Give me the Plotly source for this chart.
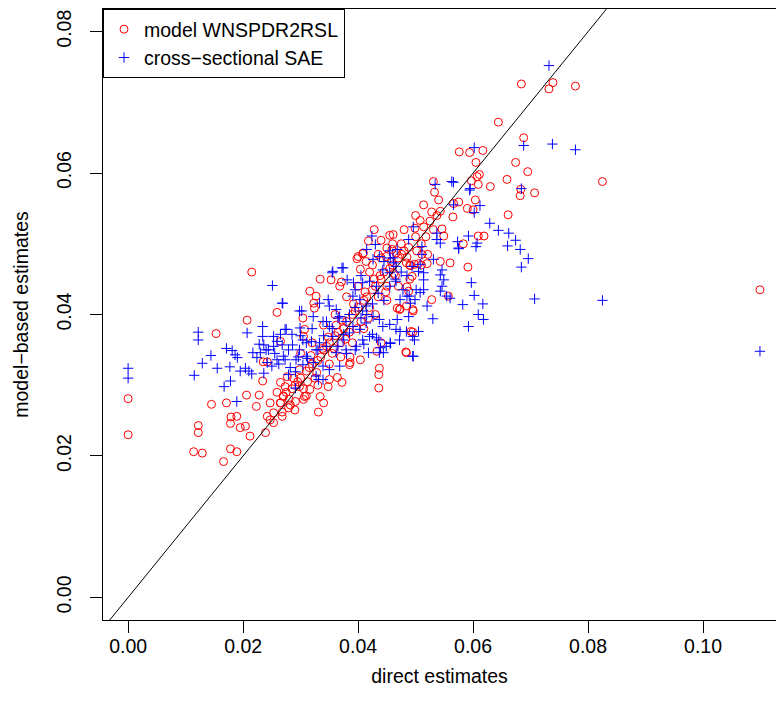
import plotly.graph_objects as go

# ---- data (direct estimates vs model-based estimates) ----
red_x = [0.0215,0.0259,0.0207,0.0153,0.0000,0.0000,0.0145,0.0171,0.0206,0.0234,
         0.0235,0.0228,0.0223,0.0122,0.0122,0.0178,0.0179,0.0189,0.0195,0.0204,
         0.0212,0.0239,0.0114,0.0129,0.0178,0.0189,0.0166,0.0242,0.0253,0.0247,
         0.0253,0.0247,0.0259,0.0265,0.0270,0.0265,0.0273,0.0277,0.0242,0.0265,
         0.0428,0.0461,0.0418,0.0398,0.0409,0.0414,0.0334,0.0353,0.0371,0.0404,
         0.0450,0.0459,0.0468,0.0436,0.0437,0.0436,0.0404,0.0433,0.0372,0.0350,
         0.0334,0.0340,0.0331,0.0305,0.0291,0.0279,0.0268,0.0305,0.0304,0.0323,
         0.0364,0.0386,0.0386,0.0576,0.0594,0.0617,0.0605,0.0674,0.0695,0.0659,
         0.0597,0.0607,0.0611,0.0609,0.0630,0.0531,0.0533,0.0540,0.0514,0.0575,
         0.0604,0.0590,0.0600,0.0683,0.0682,0.0707,0.0543,0.0537,0.0565,0.0661,
         0.0508,0.0499,0.0514,0.0525,0.0531,0.0546,0.0549,0.0609,0.0619,0.0583,
         0.0476,0.0485,0.0511,0.0521,0.0491,0.0505,0.0520,0.0543,0.0560,0.0591,
         0.0494,0.0485,0.0488,0.0557,0.0528,0.0473,0.0496,0.0495,0.0483,0.0684,
         0.0732,0.0739,0.0778,0.0644,0.0688,0.0825,0.0566,0.1099,
         0.0400,0.0408,0.0435,0.0449,0.0466,0.0484,0.0498,0.0324,0.0307,0.0472,
         0.0484,0.0495,0.0492,0.0440,0.0484,0.0385,0.0348,0.0316,0.0307,0.0298,
         0.0368,0.0316,0.0327,
         0.0265,0.0270,0.0275,0.0280,0.0285,0.0290,0.0295,0.0300,0.0305,0.0310,
         0.0315,0.0320,0.0325,0.0330,0.0335,0.0340,0.0345,0.0350,0.0355,0.0360,
         0.0365,0.0370,0.0375,0.0380,0.0385,0.0390,0.0395,0.0400,0.0405,0.0410,
         0.0415,0.0420,0.0425,0.0430,0.0435,0.0440,0.0445,0.0450,0.0455,0.0460,
         0.0465,0.0470,0.0480,0.0490,0.0500,0.0510,
         0.0300,0.0320,0.0340,0.0360,0.0380,0.0400,0.0350,0.0370,0.0390,0.0410,
         0.0430,0.0450,0.0290,0.0310,0.0330,0.0425,0.0440,0.0460,0.0480,0.0500,
         0.0470,0.0490,0.0510,
         0.0268,0.0282,0.0288,0.0298,0.0312,0.0318,0.0328,0.0338,0.0348,0.0358,
         0.0362,0.0372,0.0378,0.0392,0.0398,0.0412,0.0418,0.0428,0.0438,0.0448,
         0.0458,0.0462,0.0475,0.0488,0.0502,0.0518,0.0528,0.0455,0.0440,0.0420]
red_y = [0.0460,0.0403,0.0392,0.0373,0.0281,0.0230,0.0273,0.0275,0.0286,0.0306,
         0.0333,0.0286,0.0270,0.0243,0.0233,0.0246,0.0255,0.0256,0.0240,0.0242,
         0.0228,0.0233,0.0206,0.0204,0.0210,0.0206,0.0192,0.0256,0.0261,0.0251,
         0.0247,0.0275,0.0290,0.0275,0.0284,0.0304,0.0298,0.0312,0.0333,0.0362,
         0.0520,0.0513,0.0504,0.0479,0.0487,0.0475,0.0450,0.0449,0.0446,0.0464,
         0.0494,0.0492,0.0409,0.0315,0.0324,0.0296,0.0336,0.0348,0.0304,0.0308,
         0.0284,0.0275,0.0262,0.0280,0.0277,0.0268,0.0256,0.0369,0.0395,0.0416,
         0.0311,0.0332,0.0340,0.0630,0.0629,0.0632,0.0615,0.0615,0.0602,0.0591,
         0.0589,0.0595,0.0598,0.0584,0.0581,0.0588,0.0573,0.0562,0.0555,0.0559,
         0.0562,0.0550,0.0548,0.0577,0.0568,0.0572,0.0546,0.0540,0.0538,0.0541,
         0.0533,0.0522,0.0524,0.0532,0.0520,0.0521,0.0511,0.0511,0.0511,0.0500,
         0.0485,0.0481,0.0485,0.0485,0.0469,0.0472,0.0472,0.0475,0.0473,0.0467,
         0.0454,0.0439,0.0433,0.0426,0.0421,0.0408,0.0405,0.0375,0.0347,0.0726,
         0.0719,0.0728,0.0723,0.0672,0.0650,0.0588,0.0557,0.0435,
         0.0482,0.0486,0.0485,0.0482,0.0487,0.0473,0.0471,0.0409,0.0379,0.0407,
         0.0412,0.0407,0.0376,0.0360,0.0346,0.0329,0.0298,0.0294,0.0284,0.0298,
         0.0440,0.0433,0.0426,
         0.0275,0.0285,0.0290,0.0280,0.0295,0.0300,0.0305,0.0310,0.0295,0.0320,
         0.0325,0.0330,0.0310,0.0335,0.0340,0.0350,0.0355,0.0360,0.0345,0.0370,
         0.0375,0.0360,0.0380,0.0390,0.0375,0.0400,0.0405,0.0410,0.0390,0.0420,
         0.0425,0.0410,0.0435,0.0440,0.0425,0.0450,0.0460,0.0440,0.0465,0.0470,
         0.0455,0.0480,0.0490,0.0470,0.0510,0.0500,
         0.0345,0.0360,0.0385,0.0400,0.0425,0.0440,0.0330,0.0340,0.0360,0.0380,
         0.0400,0.0420,0.0265,0.0285,0.0300,0.0470,0.0480,0.0500,0.0520,0.0540,
         0.0440,0.0450,0.0470,
         0.0262,0.0272,0.0310,0.0322,0.0305,0.0342,0.0318,0.0352,0.0368,0.0352,
         0.0385,0.0392,0.0365,0.0415,0.0380,0.0432,0.0395,0.0450,0.0455,0.0432,
         0.0475,0.0458,0.0500,0.0495,0.0490,0.0510,0.0545,0.0512,0.0505,0.0460]

blue_x = [0.0251,0.0268,0.0122,0.0122,0.0000,0.0000,0.0207,0.0234,0.0234,0.0171,
          0.0181,0.0186,0.0190,0.0144,0.0129,0.0155,0.0115,0.0177,0.0178,0.0167,
          0.0195,0.0204,0.0210,0.0215,0.0217,0.0224,0.0230,0.0189,0.0236,0.0244,
          0.0253,0.0259,0.0265,0.0273,0.0253,0.0236,0.0242,0.0250,0.0259,0.0270,
          0.0424,0.0430,0.0415,0.0355,0.0372,0.0381,0.0392,0.0269,0.0302,0.0299,
          0.0275,0.0461,0.0468,0.0456,0.0436,0.0439,0.0444,0.0418,0.0331,0.0291,
          0.0732,0.0602,0.0688,0.0738,0.0778,0.0566,0.0594,0.0684,0.0566,0.0612,
          0.0602,0.0629,0.0644,0.0662,0.0674,0.0660,0.0682,0.0696,0.0684,0.0573,
          0.0575,0.0592,0.0607,0.0605,0.0597,0.0602,0.0560,0.0582,0.0617,0.0609,
          0.0618,0.0592,0.0707,0.0825,0.0534,0.0563,0.0595,0.0488,0.0496,0.0537,
          0.0537,0.0543,0.0575,0.0511,0.0511,0.0462,0.0456,0.0508,0.0531,0.0546,
          0.0543,0.0494,0.0505,0.0514,0.0514,0.0549,0.0546,0.0543,0.0554,0.0508,
          0.0499,0.0485,0.0473,0.0530,0.0473,0.0505,0.0456,0.0496,0.0488,0.0468,
          0.0491,0.0514,0.0520,0.1099,
          0.0374,0.0356,0.0426,0.0437,0.0443,0.0455,0.0466,0.0466,0.0478,0.0489,
          0.0501,0.0408,0.0420,0.0432,0.0391,0.0403,0.0414,0.0408,0.0348,0.0333,
          0.0350,0.0362,0.0298,0.0322,0.0339,0.0350,0.0368,0.0379,0.0391,0.0403,
          0.0414,0.0426,0.0437,0.0443,0.0455,0.0466,0.0484,0.0495,0.0498,0.0472,
          0.0449,0.0437,0.0495,0.0304,0.0319,0.0333,0.0298,0.0310,0.0327,0.0345,
          0.0356,0.0374,0.0385,0.0362,0.0379,0.0397,0.0408,0.0420,0.0432,0.0292,
          0.0304,0.0322,0.0339,0.0350,0.0368,0.0327,0.0339,
          0.0279,0.0286,0.0273,0.0282,0.0291,0.0296,0.0268,0.0279,
          0.0300,0.0310,0.0320,0.0330,0.0340,0.0345,0.0355,0.0365,0.0375,0.0385,
          0.0395,0.0405,0.0415,0.0425,0.0435,0.0445,0.0455,0.0465,0.0475,0.0485,
          0.0445,0.0455,0.0395,0.0405,0.0365,0.0380,0.0395,0.0410,0.0425,0.0255,
          0.0262,0.0285,0.0312,0.0240,0.0228]
blue_y = [0.0441,0.0416,0.0375,0.0364,0.0324,0.0310,0.0374,0.0383,0.0369,0.0352,
          0.0349,0.0343,0.0339,0.0342,0.0331,0.0324,0.0314,0.0326,0.0306,0.0298,
          0.0320,0.0324,0.0320,0.0316,0.0346,0.0339,0.0346,0.0277,0.0357,0.0350,
          0.0355,0.0362,0.0372,0.0379,0.0369,0.0317,0.0332,0.0327,0.0336,0.0341,
          0.0511,0.0499,0.0492,0.0459,0.0466,0.0449,0.0445,0.0416,0.0405,0.0381,
          0.0379,0.0480,0.0492,0.0359,0.0364,0.0353,0.0346,0.0346,0.0308,0.0296,
          0.0752,0.0636,0.0639,0.0641,0.0633,0.0587,0.0576,0.0578,0.0555,0.0554,
          0.0544,0.0529,0.0519,0.0515,0.0505,0.0497,0.0492,0.0479,0.0467,0.0503,
          0.0494,0.0511,0.0501,0.0496,0.0445,0.0427,0.0423,0.0414,0.0415,0.0400,
          0.0393,0.0383,0.0422,0.0420,0.0584,0.0588,0.0578,0.0506,0.0524,0.0515,
          0.0506,0.0501,0.0493,0.0496,0.0485,0.0473,0.0480,0.0471,0.0478,0.0463,
          0.0456,0.0468,0.0461,0.0459,0.0449,0.0449,0.0440,0.0433,0.0426,0.0431,
          0.0421,0.0426,0.0421,0.0394,0.0376,0.0376,0.0360,0.0341,0.0397,0.0393,
          0.0416,0.0435,0.0412,0.0348,
          0.0466,0.0461,0.0478,0.0482,0.0463,0.0459,0.0468,0.0447,0.0435,0.0426,
          0.0435,0.0445,0.0447,0.0440,0.0426,0.0421,0.0412,0.0405,0.0421,0.0416,
          0.0412,0.0407,0.0405,0.0397,0.0390,0.0383,0.0397,0.0390,0.0383,0.0379,
          0.0388,0.0397,0.0393,0.0383,0.0386,0.0379,0.0376,0.0369,0.0364,0.0364,
          0.0355,0.0346,0.0341,0.0364,0.0362,0.0360,0.0350,0.0341,0.0350,0.0355,
          0.0369,0.0364,0.0374,0.0346,0.0350,0.0355,0.0364,0.0369,0.0367,0.0336,
          0.0329,0.0332,0.0327,0.0322,0.0327,0.0313,0.0308,
          0.0350,0.0357,0.0336,0.0325,0.0319,0.0340,0.0357,0.0315,
          0.0370,0.0360,0.0380,0.0350,0.0370,0.0390,0.0380,0.0395,0.0372,0.0400,
          0.0410,0.0395,0.0400,0.0415,0.0430,0.0420,0.0440,0.0450,0.0460,0.0455,
          0.0475,0.0490,0.0435,0.0455,0.0355,0.0345,0.0350,0.0358,0.0372,0.0345,
          0.0330,0.0372,0.0338,0.0350,0.0358]

x_ticks = [0.00, 0.02, 0.04, 0.06, 0.08, 0.10]
x_tick_labels = ["0.00", "0.02", "0.04", "0.06", "0.08", "0.10"]
y_ticks = [0.00, 0.02, 0.04, 0.06, 0.08]
y_tick_labels = ["0.00", "0.02", "0.04", "0.06", "0.08"]

diag = [-0.01, 0.12]   # y = x reference line

FONT = "Liberation Sans, Arial, Helvetica, sans-serif"
FS = 19.5

fig = go.Figure()
fig.add_trace(go.Scatter(
    x=red_x, y=red_y, mode="markers", name="model WNSPDR2RSL",
    marker=dict(symbol="circle-open", size=8, color="#FF0000",
                line=dict(width=1, color="#FF0000"))))
fig.add_trace(go.Scatter(
    x=blue_x, y=blue_y, mode="markers", name="cross\u2212sectional SAE",
    marker=dict(symbol="cross-thin-open", size=7.4, color="#0000FF",
                line=dict(width=1, color="#0000FF"))))
fig.add_trace(go.Scatter(
    x=diag, y=diag, mode="lines", showlegend=False,
    line=dict(color="black", width=1), hoverinfo="skip"))

fig.update_layout(
    width=776, height=716,
    margin=dict(l=103, r=0, t=9, b=96, autoexpand=False),
    paper_bgcolor="white", plot_bgcolor="white",
    font=dict(family=FONT, size=FS, color="black"),
    showlegend=True,
    legend=dict(x=0, y=1, xanchor="left", yanchor="top",
                bgcolor="white", bordercolor="black", borderwidth=1,
                font=dict(family=FONT, size=FS, color="black"),
                itemwidth=30, tracegroupgap=0, itemsizing="trace"),
    xaxis=dict(range=[-0.00437, 0.11269], tickvals=x_ticks, ticktext=x_tick_labels,
               ticks="outside", ticklen=12, tickwidth=1, tickcolor="black",
               ticklabelstandoff=-3,
               showline=True, linecolor="black", linewidth=1, mirror=True,
               showgrid=False, zeroline=False, automargin=False,
               title=dict(text="direct estimates", standoff=12,
                          font=dict(family=FONT, size=FS))),
    yaxis=dict(range=[-0.0032, 0.0832], tickvals=y_ticks, ticktext=y_tick_labels,
               tickangle=-90, ticklabelstandoff=11,
               ticks="outside", ticklen=12, tickwidth=1, tickcolor="black",
               showline=True, linecolor="black", linewidth=1, mirror=False,
               showgrid=False, zeroline=False, automargin=False,
               title=dict(text="model\u2212based estimates", standoff=19,
                          font=dict(family=FONT, size=FS))),
)

fig.write_html("out.html", config={"displayModeBar": False},
               post_script="document.body.style.margin='0';document.body.style.overflow='hidden';")
